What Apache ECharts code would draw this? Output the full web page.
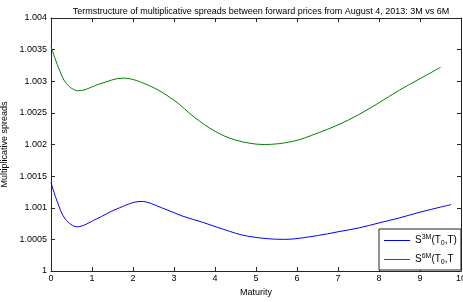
<!DOCTYPE html>
<html>
<head>
<meta charset="utf-8">
<script src="https://cdn.jsdelivr.net/npm/echarts@6/dist/echarts.min.js"></script>
<style>
  html, body { margin: 0; padding: 0; background: #fff; }
  #chart { width: 463px; height: 302px; }
</style>
</head>
<body>
<div id="chart"></div>
<script>
// maturity (years) and spread values
let mat3M = [0, 0.15, 0.35, 0.64, 1.1, 1.6, 2.2, 2.7, 3.2, 3.7, 4.2, 4.8, 5.7, 6.5, 7, 7.5, 8, 8.5, 9, 9.5, 9.76]
let spread3M = [1.0014, 1.0011, 1.00082, 1.0007, 1.00082, 1.00098, 1.0011, 1.001, 1.00087, 1.00077, 1.00066, 1.00055, 1.0005, 1.00056, 1.00062, 1.00068, 1.00076, 1.00084, 1.00093, 1.00101, 1.00105]

let mat6M = [0, 0.18, 0.38, 0.67, 1.2, 1.75, 2.4, 3, 3.5, 4, 4.5, 5.2, 5.9, 6.5, 7, 7.5, 8, 8.5, 9, 9.5]
let spread6M = [1.00355, 1.00322, 1.00296, 1.00285, 1.00296, 1.00305, 1.00293, 1.0027, 1.00243, 1.00221, 1.00207, 1.002, 1.00205, 1.00218, 1.00231, 1.00247, 1.00266, 1.00286, 1.00304, 1.00322]

let xTicks = [0, 10, 1]
let yTicks = [1, 1.004, 0.0005]

function pairs(xs, ys) {
  return xs.map((x, i) => [x, ys[i]])
}

let font = "Liberation Sans, Arial, sans-serif"
let axisColor = "#262626"

let myChart = echarts.init(document.getElementById("chart"))

let baseX = {
  type: "value",
  min: xTicks[0],
  max: xTicks[1],
  interval: xTicks[2],
  splitLine: { show: false },
  axisLine: { show: true, onZero: false, lineStyle: { color: axisColor, width: 1 } },
  axisTick: { show: true, inside: true, length: 4, lineStyle: { color: axisColor } },
}
let baseY = {
  type: "value",
  min: yTicks[0],
  max: yTicks[1],
  interval: yTicks[2],
  splitLine: { show: false },
  axisLine: { show: true, onZero: false, lineStyle: { color: axisColor, width: 1 } },
  axisTick: { show: true, inside: true, length: 4, lineStyle: { color: axisColor } },
}

let legendRich = {
  n: { fontSize: 10, fontFamily: font, color: "#000" },
  sup: { fontSize: 7, fontFamily: font, color: "#000", verticalAlign: "top", padding: [0, 0, 6, 0] },
  sub: { fontSize: 7, fontFamily: font, color: "#000", verticalAlign: "bottom", padding: [5, 0, 0, 0] },
}

myChart.setOption({
  animation: false,
  title: {
    text: "Termstructure of multiplicative spreads between forward prices from August 4, 2013: 3M vs 6M",
    left: 256,
    textAlign: "center",
    top: 2,
    textStyle: { fontSize: 9, fontWeight: "normal", fontFamily: font, color: "#000" },
  },
  grid: { left: 51, right: 2, top: 18, bottom: 31, outerBoundsMode: "none", containLabel: false },
  xAxis: [
    Object.assign({}, baseX, {
      position: "bottom",
      name: "Maturity",
      nameLocation: "middle",
      nameGap: 17,
      nameTextStyle: { fontSize: 9, fontFamily: font, color: "#000" },
      axisLabel: { fontSize: 9, fontFamily: font, color: "#000", margin: 3 },
    }),
    Object.assign({}, baseX, { position: "top", axisLabel: { show: false } }),
  ],
  yAxis: [
    Object.assign({}, baseY, {
      position: "left",
      name: "Multiplicative spreads",
      nameLocation: "middle",
      nameGap: 36,
      nameTextStyle: { fontSize: 9, fontFamily: font, color: "#000" },
      axisLabel: {
        fontSize: 9,
        fontFamily: font,
        color: "#000",
        margin: 4,
        formatter: (v) => String(+v.toFixed(4)),
      },
    }),
    Object.assign({}, baseY, { position: "right", axisLabel: { show: false } }),
  ],
  legend: {
    orient: "vertical",
    left: 379,
    top: 229,
    width: 78,
    backgroundColor: "#fff",
    borderColor: axisColor,
    borderWidth: 1,
    padding: [5, 4, 4, 5],
    itemGap: 6,
    itemWidth: 26,
    itemHeight: 1,
    icon: "rect",
    data: ["3M", "6M"],
    formatter: (name) =>
      name === "3M"
        ? "{n|S}{sup|3M}{n|(T}{sub|0}{n|,T)}"
        : "{n|S}{sup|6M}{n|(T}{sub|0}{n|,T}",
    textStyle: { rich: legendRich },
  },
  series: [
    {
      name: "3M",
      type: "line",
      xAxisIndex: 0,
      yAxisIndex: 0,
      smooth: 0.35,
      showSymbol: false,
      data: pairs(mat3M, spread3M),
      itemStyle: { color: "#0000ff" },
      lineStyle: { color: "#0000ff", width: 1 },
    },
    {
      name: "6M",
      type: "line",
      xAxisIndex: 0,
      yAxisIndex: 0,
      smooth: 0.35,
      showSymbol: false,
      data: pairs(mat6M, spread6M),
      itemStyle: { color: "#008000" },
      lineStyle: { color: "#008000", width: 1 },
    },
  ],
})
</script>
</body>
</html>
